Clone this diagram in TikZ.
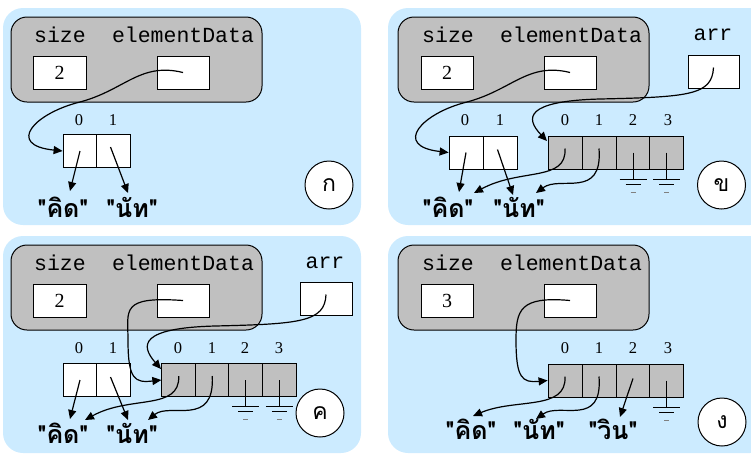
\documentclass[tikz,border=0pt]{standalone}
\usepackage{fontspec}
\setmainfont{Liberation Serif}
\newfontfamily\thai[Script=Thai]{Loma}
\newfontfamily\codefont{Liberation Mono}
\usetikzlibrary{arrows.meta}
\definecolor{panelblue}{HTML}{CCEBFF}
\definecolor{objgray}{HTML}{C0C0C0}
\tikzset{
  panel/.style={fill=panelblue, rounded corners=20pt},
  obj/.style={draw, line width=1pt, fill=objgray, rounded corners=16pt},
  cell/.style={draw, line width=0.8pt, fill=white, minimum width=34pt, minimum height=33pt, inner sep=0pt},
  gcell/.style={cell, fill=objgray},
  field/.style={font=\codefont\fontsize{21.5}{22}\selectfont, inner sep=0pt},
  idx/.style={font=\fontsize{16.5}{17}\selectfont, inner sep=0pt},
  val/.style={font=\fontsize{20}{20}\selectfont},
  str/.style={font=\thai\bfseries\fontsize{25}{25}\selectfont, inner sep=0pt},
  tag/.style={draw, circle, line width=1pt, fill=white, minimum size=48pt, inner sep=0pt, font=\thai\fontsize{23}{23}\selectfont},
  ptr/.style={line width=1.2pt, -{Triangle[length=9pt,width=8pt]}},
  pics/gnd/.style={code={
    \draw[line width=1pt] (0,0) -- (0,26.5);
    \draw[line width=1pt] (-13.5,26.5) -- (13.5,26.5);
    \draw[line width=1pt] (-7.5,31.5) -- (7.5,31.5);
    \draw[line width=1pt, gray] (-2.5,39.5) -- (2.5,39.5);
  }}
}
\begin{document}
\begin{tikzpicture}[x=1pt, y=-1pt]
\useasboundingbox (0,0) rectangle (751,456);
% backgrounds of the four panels
\fill[panel] (3,8) rectangle (361,225);
\fill[panel] (388,8) rectangle (770,225);
\fill[panel] (3,236) rectangle (361,453);
\fill[panel] (388,236) rectangle (770,453);

% ---------------- panel ก ----------------
\draw[obj] (11,17) rectangle (262,102);
\node[field] (sz1) at (60,35) {size};
\node[field] (ed1) at (183,35) {elementData};
\node[cell, minimum width=53pt] (szb1) at (59.5,72.5) {};
\node[val] at (szb1) {2};
\node[cell, minimum width=52pt] (edb1) at (183,72.5) {};
\node[cell] (a10) at (80,151) {};
\node[cell] (a11) at (113.5,151) {};
\node[idx] (i10) at (79,120) {0};
\node[idx] (i11) at (113,120) {1};
\node[str] (k1) at (63,207) {"คิด"};
\node[str] (n1) at (132,207) {"นัท"};
\node[tag] (t1) at (329,185) {ก};
\draw[ptr] (edb1.center) .. controls (140,62) and (125,90) .. (80,102)
  .. controls (35,113) and (5,145) .. (a10.west);
\draw[ptr] (a10.center) -- (70,191);
\draw[ptr] (a11.center) ++(-3,-4) -- (128,193);

% ---------------- panel ข ----------------
\draw[obj] (398,17) rectangle (649,102);
\node[field] (sz2) at (448,35) {size};
\node[field] (ed2) at (571,35) {elementData};
\node[field] (ar2) at (713,35) {arr};
\node[cell, minimum width=52pt] (szb2) at (447,72.5) {};
\node[val] at (szb2) {2};
\node[cell, minimum width=52pt] (edb2) at (570,72.5) {};
\node[cell, minimum width=51pt] (arb2) at (713.5,71.5) {};
\node[cell] (a20) at (466,152.5) {};
\node[cell] (a21) at (500.5,152.5) {};
\node[gcell] (b20) at (565,152.5) {};
\node[gcell] (b21) at (599,152.5) {};
\node[gcell] (b22) at (633,152.5) {};
\node[gcell] (b23) at (666.5,152.5) {};
\node[idx] (i20) at (465,120) {0};
\node[idx] (i21) at (500,120) {1};
\node[idx] (j20) at (565,120) {0};
\node[idx] (j21) at (599,120) {1};
\node[idx] (j22) at (633,120) {2};
\node[idx] (j23) at (668,120) {3};
\pic at (b22.center) {gnd};
\pic at (b23.center) {gnd};
\node[str] (k2) at (448,207) {"คิด"};
\node[str] (n2) at (519,207) {"นัท"};
\node[tag] (t2) at (721.5,185) {ข};
\draw[ptr] (edb2.center) .. controls (528,62) and (512,90) .. (467,102)
  .. controls (422,113) and (392,146) .. (a20.west);
\draw[ptr] (arb2.center) ++(0,-4) .. controls (712,95) and (690,97) .. (600,99)
  .. controls (525,101) and (525,118) .. (547,141);
\draw[ptr] (a20.center) -- (459,192);
\draw[ptr] (a21.center) ++(-3,-3) -- (513,195);
\draw[ptr] (b20.center) ++(0,-4) .. controls (567,182) and (520,168) .. (474,193);
\draw[ptr] (b21.center) ++(0,-4) .. controls (603,200) and (560,175) .. (536,193);

% ---------------- panel ค ----------------
\draw[obj] (11,245) rectangle (262,330);
\node[field] (sz3) at (60,263) {size};
\node[field] (ed3) at (183,263) {elementData};
\node[field] (ar3) at (325,263) {arr};
\node[cell, minimum width=53pt] (szb3) at (59.5,300.5) {};
\node[val] at (szb3) {2};
\node[cell, minimum width=52pt] (edb3) at (183,300.5) {};
\node[cell, minimum width=52pt] (arb3) at (326,298.5) {};
\node[cell] (a30) at (80,380) {};
\node[cell] (a31) at (113.5,380) {};
\node[gcell] (b30) at (178.75,380) {};
\node[gcell] (b31) at (212.25,380) {};
\node[gcell] (b32) at (245.75,380) {};
\node[gcell] (b33) at (279.25,380) {};
\node[idx] (i30) at (79,348) {0};
\node[idx] (i31) at (113,348) {1};
\node[idx] (j30) at (178,348) {0};
\node[idx] (j31) at (212,348) {1};
\node[idx] (j32) at (245,348) {2};
\node[idx] (j33) at (279,348) {3};
\pic at (b32.center) {gnd};
\pic at (b33.center) {gnd};
\node[str] (k3) at (63,433) {"คิด"};
\node[str] (n3) at (132,433) {"นัท"};
\node[tag] (t3) at (320,413) {ค};
\draw[ptr] (edb3.center) .. controls (120,296) and (128,310) .. (128,340)
  .. controls (128,380) and (135,383) .. (b30.west);
\draw[ptr] (arb3.center) ++(0,-4) .. controls (325,322) and (300,324) .. (215,326)
  .. controls (140,328) and (140,345) .. (161,369);
\draw[ptr] (a30.center) -- (70,419);
\draw[ptr] (a31.center) ++(-3,-3) -- (128,420);
\draw[ptr] (b30.center) ++(0,-4) .. controls (180,411) and (130,395) .. (85,420);
\draw[ptr] (b31.center) ++(0,-4) .. controls (215,428) and (170,402) .. (148,420);

% ---------------- panel ง ----------------
\draw[obj] (398,245) rectangle (649,330);
\node[field] (sz4) at (448,263) {size};
\node[field] (ed4) at (571,263) {elementData};
\node[cell, minimum width=52pt] (szb4) at (447,300.5) {};
\node[val] at (szb4) {3};
\node[cell, minimum width=52pt] (edb4) at (570,300.5) {};
\node[gcell] (b40) at (565,380.5) {};
\node[gcell] (b41) at (599,380.5) {};
\node[gcell] (b42) at (633,380.5) {};
\node[gcell] (b43) at (666.5,380.5) {};
\node[idx] (j40) at (565,348) {0};
\node[idx] (j41) at (599,348) {1};
\node[idx] (j42) at (633,348) {2};
\node[idx] (j43) at (668,348) {3};
\pic at (b43.center) {gnd};
\node[str] (k4) at (471,429) {"คิด"};
\node[str] (n4) at (539,429) {"นัท"};
\node[str] (w4) at (613,429) {"วิน"};
\node[tag] (t4) at (722,422) {ง};
\draw[ptr] (edb4.center) .. controls (520,296) and (516,310) .. (516,340)
  .. controls (516,378) and (522,383) .. (b40.west);
\draw[ptr] (b40.center) ++(0,-4) .. controls (567,411) and (515,398) .. (473,416);
\draw[ptr] (b41.center) ++(0,-4) .. controls (603,428) and (560,402) .. (536,419);
\draw[ptr] (b42.center) ++(0,-2) -- (620,417);
\end{tikzpicture}
\end{document}
